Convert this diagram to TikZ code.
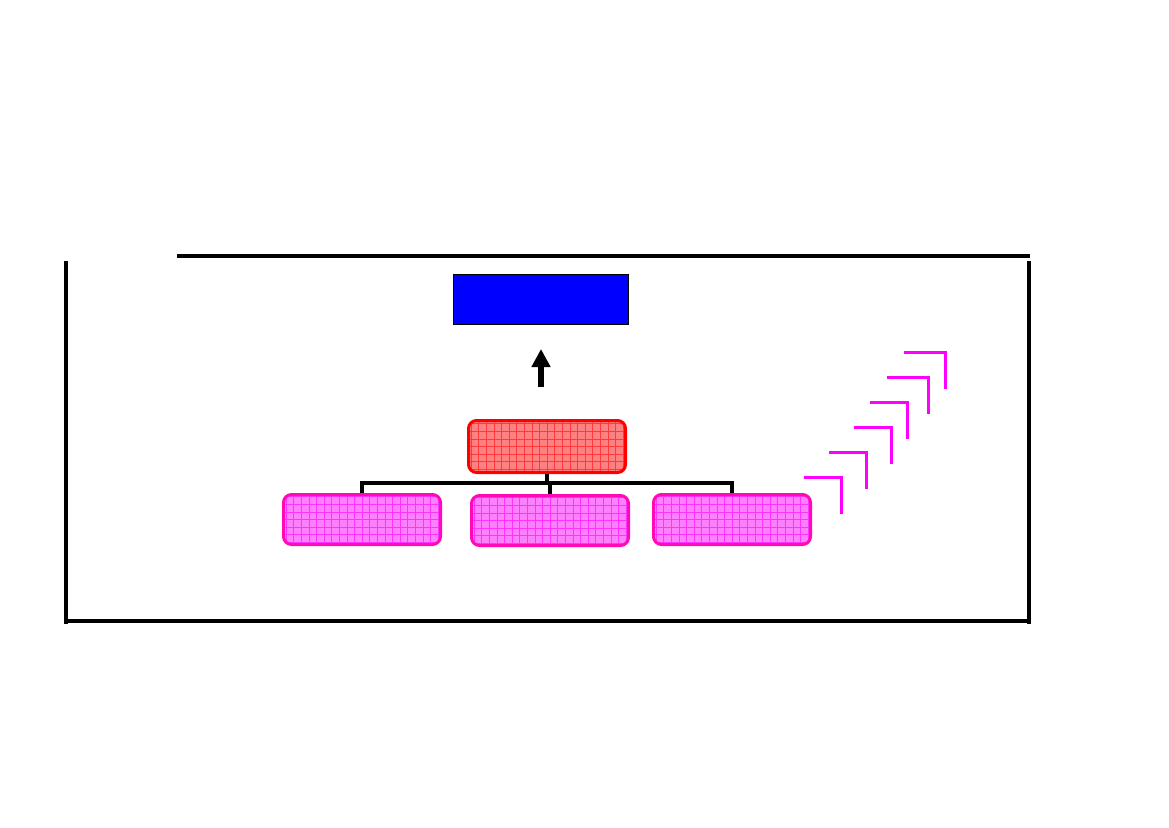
\documentclass[tikz,border=0pt]{standalone}
\usetikzlibrary{arrows.meta}
\definecolor{rfill}{HTML}{FF8080}
\definecolor{pfill}{HTML}{FF80FF}
\definecolor{pdraw}{HTML}{FF0AB4}
\definecolor{mag}{HTML}{FF00FF}
\begin{document}
\begin{tikzpicture}[x=1pt,y=-1pt,
  frame/.style={line width=3.5pt,line cap=rect},
  gridbox/.style={rectangle,rounded corners=8pt,line width=3pt,inner sep=0pt,anchor=north west},
  redbox/.style={gridbox,draw=red,fill=rfill,minimum width=157pt,minimum height=52pt,
    path picture={\draw[red!55!rfill,line width=0.6pt] ([xshift=-1pt,yshift=-1pt]path picture bounding box.south west) grid[step=7.6pt] (path picture bounding box.north east);}},
  pinkbox/.style={gridbox,draw=pdraw,fill=pfill,minimum width=157pt,minimum height=50pt,
    path picture={\draw[mag!60!pfill,line width=0.6pt] ([xshift=-1pt,yshift=-1pt]path picture bounding box.south west) grid[step=7.6pt] (path picture bounding box.north east);}},
  conn/.style={line width=3.5pt},
  stepline/.style={draw=mag,line width=3pt}]
\useasboundingbox (0,0) rectangle (1169,827);
% frame
\draw[frame] (179,256) -- (1028,256);
\draw[frame] (66,263) -- (66,622);
\draw[frame] (1029,263) -- (1029,622);
\draw[frame] (66,621) -- (1029,621);
% blue box
\node[draw=black,fill=blue,line width=0.8pt,minimum width=175pt,minimum height=50pt,inner sep=0pt,anchor=north west] (top) at (453,274) {};
% arrow
\coordinate (abot) at (541,387);
\coordinate (atop) at (541,349);
\draw[line width=6pt,-{Triangle[width=18pt,length=18pt]}] (abot) -- (atop);
% red box
\node[redbox] (mid) at (467,419) {};
% children
\node[pinkbox] (c1) at (282,493) {};
\node[pinkbox] (c2) at (470,494) {};
\node[pinkbox] (c3) at (652,493) {};
% connectors
\coordinate (bar) at (547,483);
\draw[conn] (mid.south) -- (mid.south |- bar);
\draw[conn] (c1.north) -- (c1.north |- bar) -- (c3.north |- bar) -- (c3.north);
\draw[conn] (c2.north) -- (c2.north |- bar);
% steps
\foreach \x/\y/\w in {804/477/37, 829/452/37, 854/427/37, 870/402/37, 887/377/41, 904/352/41}{
  \draw[stepline] (\x,\y) -- ++(\w,0) -- ++(0,37);
}
\end{tikzpicture}
\end{document}
